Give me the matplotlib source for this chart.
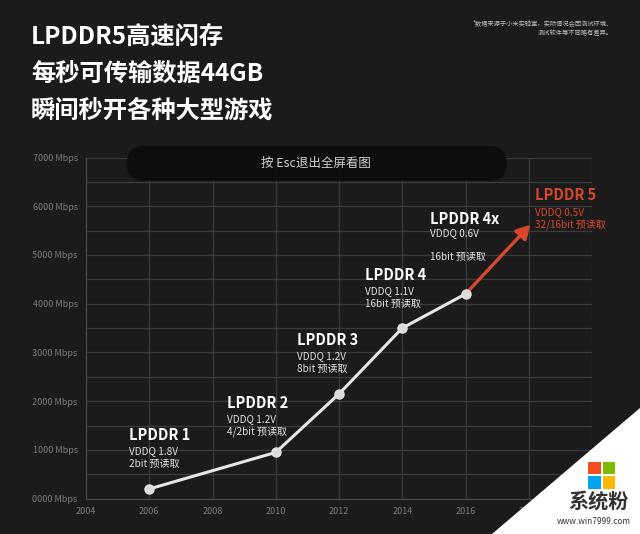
import matplotlib
matplotlib.use("Agg")
from matplotlib import pyplot as plt
from matplotlib.patches import FancyBboxPatch, Polygon, Rectangle

plt.rcParams['font.family'] = ['Noto Sans CJK SC', 'DejaVu Sans']

# data
years = [2006, 2010, 2012, 2014, 2016]
speeds = [200, 950, 2150, 3500, 4200]
names = ['LPDDR 1', 'LPDDR 2', 'LPDDR 3', 'LPDDR 4', 'LPDDR 4x']
vddq = ['VDDQ 1.8V', 'VDDQ 1.2V', 'VDDQ 1.2V', 'VDDQ 1.1V', 'VDDQ 0.6V']
prefetch = ['2bit 预读取', '4/2bit 预读取', '8bit 预读取', '16bit 预读取', '16bit 预读取']
lp5_year, lp5_speed = 2018.05, 5620
lp5_text = ['LPDDR 5', 'VDDQ 0.5V', '32/16bit 预读取']
yticks = [0, 1000, 2000, 3000, 4000, 5000, 6000, 7000]
xticks = [2004, 2006, 2008, 2010, 2012, 2014, 2016, 2018, 2020]
title_lines = ['LPDDR5高速闪存', '每秒可传输数据44GB', '瞬间秒开各种大型游戏']
note_lines = ['*数据来源于小米实验室，实际情况会因测试环境、', '测试软件等不同略有差异。']

# label anchors (layout only)
label_pos = [(2005.35, 1307), (2008.45, 1963), (2010.67, 3256), (2012.82, 4590), (2014.88, 5740)]
lp5_pos = (2018.2, 6231)

bg = '#1b1b1b'
red = '#d8472b'
W, H = 640, 534

fig = plt.figure(figsize=(6.4, 5.34), dpi=100, facecolor=bg)
ax = fig.add_axes([86 / W, 1 - 498.7 / H, 506 / W, 341.2 / H], facecolor=bg)

ax.set_xlim(2004, 2020)
ax.set_ylim(0, 7000)
ax.set_xticks(xticks)
# 2020 label sits under the watermark in the original
ax.set_xticklabels([str(x) if x < 2020 else '' for x in xticks])
ax.set_yticks(yticks)
ax.set_yticklabels(['%04d Mbps' % v for v in yticks])
ax.set_yticks(range(500, 7000, 1000), minor=True)
ax.tick_params(axis='both', which='both', length=0, colors='#7c7c7c', labelsize=6.5, pad=6)
ax.grid(True, which='both', color='#3b3b3b', lw=0.9)
ax.set_axisbelow(True)
for s in ['top', 'right']:
    ax.spines[s].set_visible(False)
for s in ['left', 'bottom']:
    ax.spines[s].set_color('#4a4a4a')

ax.plot(years, speeds, color='#e6e6e6', lw=2.2, marker='o', ms=6.5,
        mfc='#dcdcdc', mec='#e6e6e6', zorder=4)
ax.annotate('', xy=(lp5_year, lp5_speed), xytext=(years[-1], speeds[-1]),
            arrowprops=dict(arrowstyle='-|>,head_length=0.8,head_width=0.45',
                            color=red, lw=2.4, shrinkA=3, shrinkB=0), zorder=3)

small = 7.2
for i, (x, y) in enumerate(label_pos):
    ax.text(x, y, names[i], color='white', fontsize=10.5, fontweight='bold', va='center', ha='left')
    if i == 4:
        offs = (-10, -27.5)
    else:
        offs = (-11.5, -21)
    ax.annotate(vddq[i], (x, y), xytext=(0, offs[0]), textcoords='offset points',
                color='#e0e0e0', fontsize=small, va='center', ha='left')
    ax.annotate(prefetch[i], (x, y), xytext=(0, offs[1]), textcoords='offset points',
                color='#e0e0e0', fontsize=small, va='center', ha='left')

ax.text(lp5_pos[0], lp5_pos[1], lp5_text[0], color=red, fontsize=10.5, fontweight='bold', va='center', ha='left')
ax.annotate(lp5_text[1], lp5_pos, xytext=(0, -12), textcoords='offset points',
            color=red, fontsize=small, va='center', ha='left')
ax.annotate(lp5_text[2], lp5_pos, xytext=(0, -21.5), textcoords='offset points',
            color=red, fontsize=small, va='center', ha='left')

# overlay in pixel units for title, pill and watermark
ov = fig.add_axes([0, 0, 1, 1], facecolor='none', zorder=10)
ov.set_xlim(0, W)
ov.set_ylim(H, 0)
ov.axis('off')

for i, line in enumerate(title_lines):
    ov.text(31, 37 + 37 * i, line, color='white', fontsize=17.5,
            fontweight='bold', va='center', ha='left')
for i, line in enumerate(note_lines):
    ov.text(613, 23 + 10.5 * i, line, color='#bdbdbd', fontsize=4.5,
            va='center', ha='right')

pill = FancyBboxPatch((126.7, 146), 380, 34.7,
                      boxstyle='round,pad=0,rounding_size=17.3',
                      facecolor='#0c0c0c', edgecolor='none', alpha=0.93)
ov.add_patch(pill)
ov.text(316, 163, '按 Esc退出全屏看图', color='#cfcfcf', fontsize=9,
        va='center', ha='center')

ov.add_patch(Polygon([(640, 408), (640, 534), (492, 534)], closed=True,
                     facecolor='white', edgecolor='none'))
sq = 12.5
for (x0, y0, c) in [(588, 461.5, '#f25022'), (602.5, 461.5, '#7fba00'),
                    (588, 476, '#00a4ef'), (602.5, 476, '#ffb900')]:
    ov.add_patch(Rectangle((x0, y0), sq, sq, facecolor=c, edgecolor='none'))
ov.text(598, 501, '系统粉', color='#333333', fontsize=14.5, fontweight='bold',
        va='center', ha='center')
ov.text(594, 521.5, 'www.win7999.com', color='#333333', fontsize=6,
        va='center', ha='center')

fig.savefig('out.png', dpi=100, facecolor=bg)
